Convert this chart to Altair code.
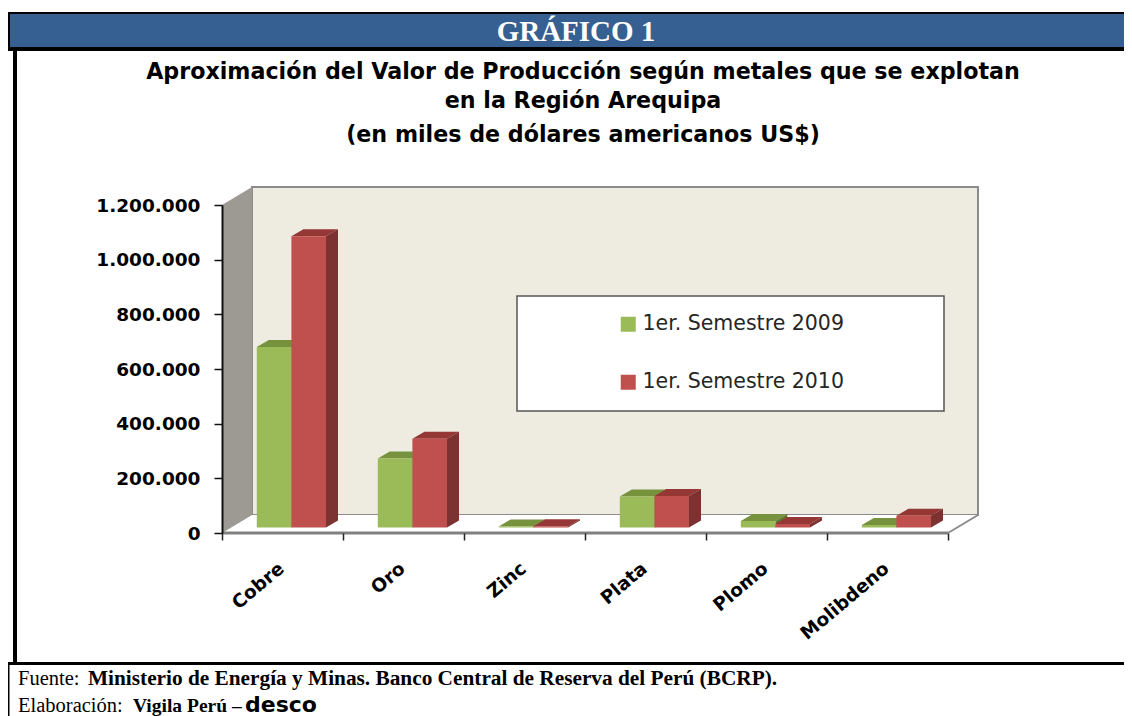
import altair as alt
import pandas as pd

# ---- chart values (miles de US$)
categories = ["Cobre", "Oro", "Zinc", "Plata", "Plomo", "Molibdeno"]
series_names = ["1er. Semestre 2009", "1er. Semestre 2010"]
values_2009 = [660000, 252000, 4000, 113000, 24000, 9000]
values_2010 = [1066000, 325000, 5000, 115000, 13000, 43000]
y_ticks = [0, 200000, 400000, 600000, 800000, 1000000, 1200000]
x_ticks = [0, 1, 2, 3, 4, 5, 6]
title_lines = [
    "Aproximación del Valor de Producción según metales que se explotan",
    "en la Región Arequipa",
    "(en miles de dólares americanos US$)",
]

FRONT = {series_names[0]: "#9BBB59", series_names[1]: "#C0504D"}
TOP = {series_names[0]: "#76923C", series_names[1]: "#953735"}
SIDE = {series_names[0]: "#5F7530", series_names[1]: "#7B3231"}

W, H = 1116, 708
RIGHT = 8 + W
V_PER_PX = 1200000 / 328
C_PER_PX = 1 / 121
WALL_DX, WALL_DY = 30 * C_PER_PX, 18 * V_PER_PX
BAR_DX, BAR_DY = 12 * C_PER_PX, 7 * V_PER_PX
BASE = 5.5 * V_PER_PX
BAR_W = 34.6 * C_PER_PX
BAR_START = 34.8 * C_PER_PX

xs = alt.Scale(domain=[0, 6], range=[214, 940], nice=False, zero=False)
ys = alt.Scale(domain=[0, 1200000], range=[525, 197], nice=False, zero=False)


def X(f, **k):
    return alt.X(f, type="quantitative", scale=xs, title=None, axis=k.pop("axis", None))


def Y(f, **k):
    return alt.Y(f, type="quantitative", scale=ys, title=None, axis=k.pop("axis", None))


def rect(x0, x1, y0, y1, color):
    return alt.Chart(pd.DataFrame({"a": [0]})).mark_rect(color=color).encode(
        x=alt.value(x0 - 8), x2=alt.value(x1 - 8), y=alt.value(y0 - 8), y2=alt.value(y1 - 8)
    )


def text(s, x, y, size, font, bold=False, color="black", align="left"):
    return alt.Chart(pd.DataFrame({"a": [0]})).mark_text(
        font=font, fontSize=size, fontWeight="bold" if bold else "normal",
        color=color, align=align, baseline="middle",
    ).encode(x=alt.value(x - 8), y=alt.value(y - 8), text=alt.value(s))


# ---- tables derived from the arrays
rows = []
for si, (name, vals) in enumerate(zip(series_names, [values_2009, values_2010])):
    for ci, (c, v) in enumerate(zip(categories, vals)):
        x0 = ci + BAR_START + si * BAR_W
        rows.append(dict(cat=c, serie=name, x0=x0, x1=x0 + BAR_W, v0=BASE, v1=BASE + v))
bars = pd.DataFrame(rows)

top_rows, side_rows = [], []
for i, r in bars.iterrows():
    for t in (0, 1):
        top_rows.append(dict(id=i, serie=r.serie, shade=TOP[r.serie], y=r.v1 + t * BAR_DY,
                             xa=r.x0 + t * BAR_DX, xb=r.x1 + t * BAR_DX))
        side_rows.append(dict(id=i, serie=r.serie, shade=SIDE[r.serie], x=r.x1 + t * BAR_DX,
                              ya=r.v0 + t * BAR_DY, yb=r.v1 + t * BAR_DY))
tops = pd.DataFrame(top_rows)
sides = pd.DataFrame(side_rows)

# ---- 3D box
back_wall = alt.Chart(pd.DataFrame({
    "x": [WALL_DX], "x2": [6 + WALL_DX], "y": [WALL_DY], "y2": [1200000 + WALL_DY]
})).mark_rect(fill="#EEECE1", stroke="#8C8C8C", strokeWidth=2).encode(
    x=X("x"),
    x2="x2",
    y=Y("y"),
    y2="y2",
)

left_wall = alt.Chart(pd.DataFrame({
    "x": [0, WALL_DX], "y": [0, WALL_DY], "y2": [1200000, 1200000 + WALL_DY]
})).mark_area(orient="vertical", color="#9C9A93", opacity=1, line={"color": "#8C8C8C", "strokeWidth": 1}).encode(
    x=X("x"), y=Y("y"), y2="y2"
)

floor = alt.Chart(pd.DataFrame({
    "y": [0, WALL_DY], "x": [0, WALL_DX], "x2": [6, 6 + WALL_DX]
})).mark_area(orient="horizontal", color="#FFFFFF", opacity=1).encode(
    y=Y("y"), x=X("x"), x2="x2"
)

floor_right = alt.Chart(pd.DataFrame({"x": [6, 6 + WALL_DX], "y": [0, WALL_DY]})).mark_line(
    color="#8C8C8C", strokeWidth=2
).encode(x=X("x"), y=Y("y"))

floor_front = alt.Chart(pd.DataFrame({"x": [0, 6], "y": [0, 0]})).mark_line(
    color="#808080", strokeWidth=3
).encode(x=X("x"), y=Y("y"))

# ---- axes
axis_layer = alt.Chart(pd.DataFrame({"x": [0], "y": [0]})).mark_point(opacity=0).encode(
    x=alt.X("x:Q", scale=xs, title=None, axis=alt.Axis(
        values=x_ticks, labels=False, grid=False, offset=525 - H, tickSize=7, tickColor="#222222",
        tickWidth=1.5, domain=False, zindex=2,
    )),
    y=alt.Y("y:Q", scale=ys, title=None, axis=alt.Axis(
        values=y_ticks, grid=False, offset=-214, tickSize=8, tickColor="#111111", tickWidth=1.5,
        domainColor="#111111", domainWidth=2, labelPadding=14, labelFont="DejaVu Sans",
        labelFontSize=18.5, labelFontWeight="bold", labelColor="black", zindex=2,
        labelExpr="replace(format(datum.value, ',d'), /,/g, '.')",
    )),
)


def faces(serie):
    top = alt.Chart(tops[tops.serie == serie]).mark_area(orient="horizontal", opacity=1).encode(
        y=Y("y"), x=X("xa"), x2="xb", detail="id:N",
        color=alt.Color("shade:N", scale=None, legend=None),
    )
    side = alt.Chart(sides[sides.serie == serie]).mark_area(orient="vertical", opacity=1).encode(
        x=X("x"), y=Y("ya"), y2="yb", detail="id:N",
        color=alt.Color("shade:N", scale=None, legend=None),
    )
    return [top, side]


front = alt.Chart(bars).mark_rect().encode(
    x=X("x0"), x2="x1", y=Y("v0"), y2="v1",
    color=alt.Color("serie:N", scale=alt.Scale(domain=series_names, range=[FRONT[s] for s in series_names]),
                    legend=alt.Legend(
                        orient="none", legendX=610, legendY=306, title=None, symbolType="square",
                        symbolSize=225, symbolStrokeWidth=0, labelFont="DejaVu Sans", labelFontSize=20.5,
                        labelColor="#262626", labelOffset=4, rowPadding=37, labelLimit=400, padding=0,
                    )),
)

cat_labels = alt.Chart(pd.DataFrame({
    "cat": categories, "x": [i + 0.5 - 1 * C_PER_PX for i in range(6)], "y": [-33 * V_PER_PX] * 6
})).mark_text(
    font="DejaVu Sans", fontSize=18.5, fontWeight="bold", angle=320, align="right", baseline="middle", color="black"
).encode(x=X("x"), y=Y("y"), text="cat:N")

legend_box = alt.Chart(pd.DataFrame({"a": [0]})).mark_rect(
    fill="white", stroke="#555555", strokeWidth=1.5
).encode(x=alt.value(517 - 8), x2=alt.value(944 - 8), y=alt.value(296 - 8), y2=alt.value(411 - 8))

layers = [
    # frame
    rect(8, RIGHT, 12, 48, "black"),
    rect(10, RIGHT, 14, 47, "#366092"),
    rect(8, RIGHT, 47, 51, "black"),
    rect(13, 17, 48, 665, "black"),
    rect(8, RIGHT, 662, 665, "black"),
    rect(8, 9.5, 665, 716, "black"),
    text("GRÁFICO 1", 576, 32, 29, "Liberation Serif", True, "white", "center"),
    text(title_lines[0], 583, 72, 22.2, "DejaVu Sans", True, "black", "center"),
    text(title_lines[1], 583, 101, 22.2, "DejaVu Sans", True, "black", "center"),
    text(title_lines[2], 583, 135, 22.2, "DejaVu Sans", True, "black", "center"),
    back_wall, left_wall, floor, floor_right,
    *faces(series_names[0]),
    *faces(series_names[1]),
    front,
    floor_front,
    axis_layer,
    cat_labels,
    legend_box,
    text("Fuente:", 18, 679, 20.5, "Liberation Serif"),
    text("Ministerio de Energía y Minas. Banco Central de Reserva del Perú (BCRP).", 88, 679, 21.3, "Liberation Serif", True),
    text("Elaboración:", 18, 706, 20.5, "Liberation Serif"),
    text("Vigila Perú –", 133, 706, 19.5, "Liberation Serif", True),
    text("desco", 245, 705, 22, "DejaVu Sans", True),
]

chart = alt.layer(*layers).resolve_scale(color="independent").resolve_axis(x="independent", y="independent").properties(
    width=W, height=H, padding=0, autosize=alt.AutoSizeParams(type="none"), background="white"
).configure_view(strokeWidth=0)

chart.save("out.html", embed_options={"renderer": "svg", "actions": False})
